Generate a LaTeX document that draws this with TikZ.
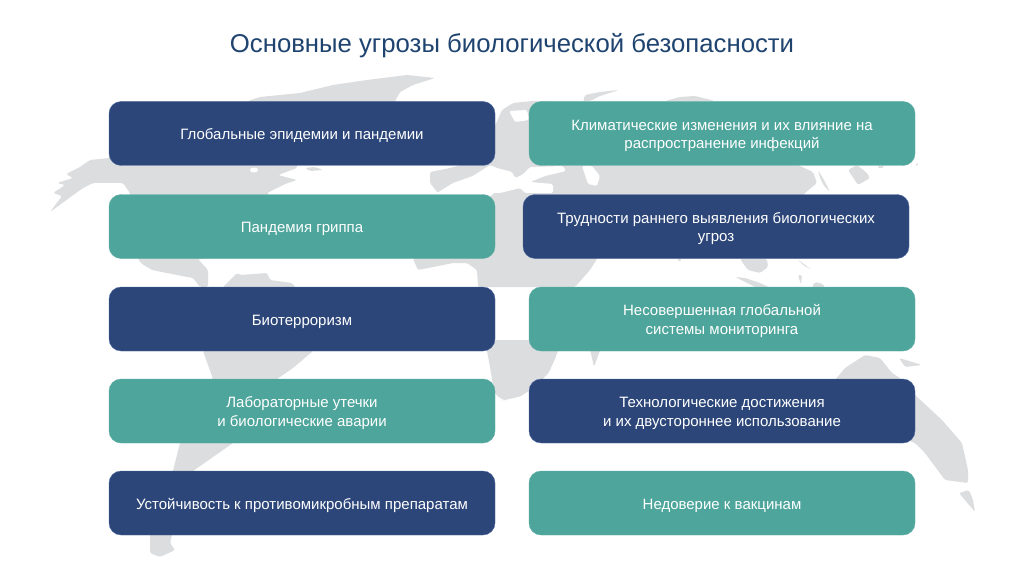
\documentclass[tikz,border=0pt]{standalone}
\usepackage{fontspec}
\setmainfont{Liberation Sans}
\definecolor{navy}{HTML}{2C4679}
\definecolor{teal}{HTML}{4DA59B}
\definecolor{mapgray}{HTML}{DCDDDF}
\definecolor{titleblue}{HTML}{1F4470}
\definecolor{navyedge}{HTML}{4F6CA0}
\definecolor{tealedge}{HTML}{5FAEA5}
\newcommand{\cardtext}[1]{\vbox{\kern3.4pt\hbox{\begin{tabular}{@{}c@{}}#1\end{tabular}}}}
\tikzset{
  land/.style={fill=mapgray,draw=none,rounded corners=1.2pt},
  softland/.style={fill=mapgray,draw=none,rounded corners=9pt},
  sea/.style={fill=white,draw=none,rounded corners=1.2pt},
  card/.style={rounded corners=9pt,minimum width=289.5pt,minimum height=48pt,inner sep=0pt,
    text=white,font=\fontsize{11.25}{14}\selectfont,line width=0.3pt},
  navycard/.style={card,fill=navy,draw=navyedge},
  tealcard/.style={card,fill=teal,draw=tealedge},
  heading/.style={text=titleblue,font=\fontsize{19.3}{22}\selectfont,inner sep=0pt}
}
\begin{document}
\begin{tikzpicture}[x=0.75pt,y=-0.75pt]
\useasboundingbox (0,0) rectangle (1024,574);
\fill[white] (0,0) rectangle (1024,574);
% North America
\fill[land] (50,212)--(83,188)--(93,183)--(123,183)--(130,193)--(138,259)--(142,264)--(152,270)--(177,275)--(193,278)--(200,287)--(208,287)--(208,270)--(198,259)--(300,250)--(267,193)--(285,184)--(297,180)--(278,175)--(297,168)--(300,140)--(110,150)--(110,158)--(90,160)--(80,167)--(66,174)--(73,178)--(57,183)--(65,185)--(53,193)--(62,196)--cycle;
\fill[sea] (254,170) ellipse (4 and 2.5);
\fill[land] (305,168)--(315,167)--(323,170)--(310,171)--cycle;
% Arctic
\fill[land] (248,105)--(248,101)--(260,97)--(300,93)--(333,85)--(367,80)--(407,75)--(435,78)--(413,85)--(400,92)--(393,105)--cycle;
\fill[land] (583,101)--(585,95)--(600,92)--(619,90)--(600,96)--(590,101)--cycle;
\fill[land] (665,101)--(680,97)--(695,96)--(715,101)--cycle;
% Eurasia
\fill[land] (430,172)--(450,168)--(480,160)--(502,110)--(513,103)--(533,101)--(700,110)--(800,166)--(813,172)--(817,183)--(805,193)--(780,220)--(600,240)--(597,259)--(590,270)--(575,287)--(478,287)--(477,270)--(467,263)--(453,263)--(418,270)--(413,259)--(440,230)--(495,193)--(438,193)--(430,183)--cycle;
% Inland seas
\fill[sea] (437,193)--(453,183)--(473,176)--(490,165)--(497,168)--(512,172)--(515,178)--(522,175)--(530,167)--(563,166)--(566,171)--(545,176)--(530,182)--(553,184)--(553,193)--(525,193)--(520,188)--(500,193)--cycle;
\fill[sea] (582,166)--(592,166)--(600,176)--(597,186)--(588,184)--(585,175)--cycle;
\fill[sea] (509,111)--(527,110)--(529,120)--(515,122)--cycle;
% Kamchatka and Japan
\fill[land] (818,170)--(824,180)--(830,192)--(824,186)--(820,178)--cycle;
\fill[land] (848,170)--(857,165)--(867,173)--(870,178)--(858,185)--cycle;
\fill[land] (877,166)--(885,166)--(880,169)--cycle;
\fill[land] (915,166)--(918,162)--(918,166)--cycle;
% South-East Asia
\fill[land] (677,259)--(682,259)--(679,262)--cycle;
\fill[land] (740,259)--(748,270)--(760,273)--(768,267)--(767,259)--cycle;
\fill[land] (735,277)--(745,278)--(760,283)--(775,290)--(755,287)--cycle;
\fill[land] (797,259)--(812,270)--(803,265)--cycle;
\fill[land] (798,275)--(802,275)--(801,285)--cycle;
\fill[land] (812,287)--(815,282)--(823,284)--(825,287)--cycle;
% Africa lower part
\fill[softland] (485,340)--(492,378)--(495,400)--(512,400)--(529,392)--(545,378)--(552,367)--(562,340)--cycle;
\fill[land] (589,345)--(602,345)--(594,367)--cycle;
% Australia
\fill[land] (835,380)--(845,368)--(865,355)--(880,358)--(892,373)--(900,378)--(915,395)--(942,420)--(962,443)--(968,470)--(968,483)--(945,480)--(925,453)--(915,443)--(850,420)--cycle;
\fill[land] (899,358)--(922,365)--(905,367)--cycle;
\fill[land] (959,493)--(969,490)--(973,500)--(975,512)--cycle;
% South America
\fill[land] (223,287)--(237,273)--(240,275)--(267,273)--(270,280)--(292,283)--(295,287)--(313,351)--(293,368)--(277,379)--(233,443)--(193,471)--(172,535)--(170,543)--(175,550)--(160,557)--(150,553)--(150,535)--(173,471)--(180,443)--(213,379)--(203,351)--cycle;
% Title
\node[heading] (title) at (512,46) {Основные угрозы биологической безопасности};
% Left column
\node[navycard] (a1) at (302,133.5) {\cardtext{Глобальные эпидемии и пандемии}};
\node[tealcard] (a2) at (302,226.5) {\cardtext{Пандемия гриппа}};
\node[navycard] (a3) at (302,319) {\cardtext{Биотерроризм}};
\node[tealcard] (a4) at (302,411) {\cardtext{Лабораторные утечки\\и биологические аварии}};
\node[navycard] (a5) at (302,503) {\cardtext{Устойчивость к противомикробным препаратам}};
% Right column
\node[tealcard] (b1) at (722,133.5) {\cardtext{Климатические изменения и их влияние на\\распространение инфекций}};
\node[navycard] (b2) at (716,226.5) {\cardtext{Трудности раннего выявления биологических\\угроз}};
\node[tealcard] (b3) at (722,319) {\cardtext{Несовершенная глобальной\\системы мониторинга}};
\node[navycard] (b4) at (722,411) {\cardtext{Технологические достижения\\и их двустороннее использование}};
\node[tealcard] (b5) at (722,503) {\cardtext{Недоверие к вакцинам}};
\end{tikzpicture}
\end{document}
